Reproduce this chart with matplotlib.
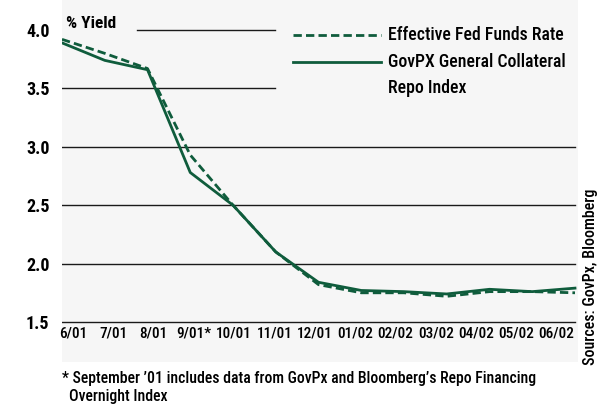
import matplotlib
matplotlib.use("Agg")
import matplotlib.pyplot as plt
from matplotlib.lines import Line2D

# ------------ Data -------------
months = ["6/01", "7/01", "8/01", "9/01*", "10/01", "11/01", "12/01",
          "01/02", "02/02", "03/02", "04/02", "05/02", "06/02"]
fed_funds = [3.92, 3.80, 3.67, 2.93, 2.50, 2.10, 1.82, 1.75, 1.75, 1.72, 1.76, 1.76, 1.75]
gc_repo = [3.89, 3.74, 3.66, 2.78, 2.50, 2.10, 1.84, 1.77, 1.76, 1.74, 1.78, 1.76, 1.79]
y_ticks = [1.5, 2.0, 2.5, 3.0, 3.5, 4.0]
# --------------------------------

GREEN = "#0f5c3c"
BG = "#f6f6f6"

plt.rcParams["font.family"] = ["Roboto Condensed", "DejaVu Sans"]

W, H = 603, 404
fig = plt.figure(figsize=(W / 100, H / 100), dpi=100)
fig.patch.set_facecolor("white")

# axes box spans the grey panel; pixel geometry below
px_left, px_right, px_top, px_bot = 62, 578, 0, 362
ax = fig.add_axes([px_left / W, 1 - px_bot / H, (px_right - px_left) / W, (px_bot - px_top) / H])
ax.set_facecolor(BG)
for sp in ax.spines.values():
    sp.set_visible(False)

# data x runs 0..12 over pixels 62..575
n = len(months)
x = list(range(n))
xpx = (575 - 62) / (n - 1)
ax.set_xlim(0, (px_right - px_left) / xpx)
# y: 4.0 at pixel 30, 1.5 at pixel 322
ypx = (322 - 30) / 2.5
ax.set_ylim(1.5 - (px_bot - 322) / ypx, 4.0 + 30 / ypx)

# gridlines (top two are cut short by the legend)
span = px_right - px_left
xmax_all = (575 - px_left) / span
short_end = (275 - px_left) / span
for v in y_ticks:
    x0, x1 = 0, xmax_all
    if v == 4.0:
        x0, x1 = (137 - px_left) / span, short_end
    elif v == 3.5:
        x1 = short_end
    ax.axhline(v, x0, x1, color="#1a1a1a", lw=1.0, zorder=1)

ax.plot(x, gc_repo, color=GREEN, lw=2.0, zorder=3)
ax.plot(x, fed_funds, color=GREEN, lw=2.0, ls=(0, (3.0, 1.5)), zorder=3)

ax.set_yticks(y_ticks)
ax.set_yticklabels([f"{v:.1f}" for v in y_ticks], fontsize=13, fontweight="bold")
ax.tick_params(axis="y", length=0, pad=9)
ax.set_xticks([])

# month labels sit inside the grey panel below the 1.5 line
y_lab = 1.5 - (334 - 322) / ypx
for i, m in enumerate(months):
    xl = (73 + 40.3 * i - 62) / xpx
    ax.text(xl, y_lab, m, ha="center", va="center", fontsize=11, fontweight="medium")

ax.text(4 / xpx, 4.0 + (30 - 23) / ypx, "% Yield", ha="left", va="center",
        fontsize=12.5, fontweight="bold")

# legend drawn by hand
def fx(p):
    return p / W

def fy(p):
    return 1 - p / H

fig.add_artist(Line2D([fx(293), fx(381)], [fy(35), fy(35)], color=GREEN, lw=2.0,
                      ls=(0, (3.0, 1.5))))
fig.add_artist(Line2D([fx(293), fx(381)], [fy(62), fy(62)], color=GREEN, lw=2.0))
leg_kw = dict(ha="left", va="center", fontsize=12.8, fontweight="medium")
fig.text(fx(388), fy(35), "Effective Fed Funds Rate", **leg_kw)
fig.text(fx(388), fy(62), "GovPX General Collateral", **leg_kw)
fig.text(fx(388), fy(88), "Repo Index", **leg_kw)

fig.text(fx(591), fy(277), "Sources: GovPx, Bloomberg", rotation=90, ha="center",
         va="center", fontsize=11.5, fontweight="medium")

fig.text(fx(62), fy(379), "* September \u201901 includes data from GovPx and Bloomberg\u2019s Repo Financing",
         ha="left", va="center", fontsize=11.3, fontweight="medium")
fig.text(fx(69), fy(396), "Overnight Index", ha="left", va="center", fontsize=11.3,
         fontweight="medium")

fig.savefig("out.png", dpi=100, facecolor="white")
